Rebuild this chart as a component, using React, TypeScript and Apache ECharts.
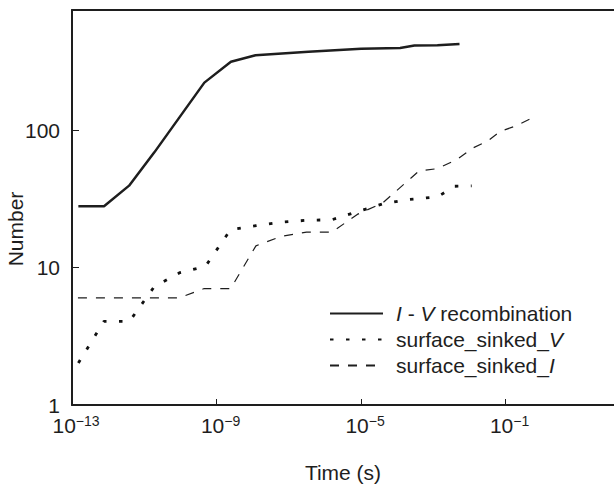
import React, { useEffect, useRef } from 'react';
import * as echarts from 'echarts';

// I - V recombination
const ivTime = [1.5e-13, 7.7e-13, 3.8e-12, 1.9e-11, 9.4e-11, 4.6e-10, 2.5e-9, 1.2e-8, 3.5e-7, 1.0e-5, 1.2e-4, 3.0e-4, 1.3e-3, 5.3e-3];
const ivCount = [28, 28, 39.5, 69, 124, 222, 315, 351, 372, 391, 397, 413, 415, 425];

// surface_sinked_V
const vTime = [1.5e-13, 7.6e-13, 3.9e-12, 1.9e-11, 9.8e-11, 4.9e-10, 2.45e-9, 1.23e-8, 6.2e-8, 3.1e-7, 1.55e-6, 7.9e-6, 4.0e-5, 2.0e-4, 1.3e-3, 3.9e-3, 0.0115];
const vCount = [2.02, 4.06, 4.06, 7.28, 9.2, 10.2, 18.9, 20.2, 21.4, 22.1, 22.3, 25.5, 29.1, 31.3, 32.7, 39.1, 39.3];

// surface_sinked_I
const iTime = [1.46e-13, 9.35e-11, 4.56e-10, 2.47e-9, 1.23e-8, 6.2e-8, 3.1e-7, 1.56e-6, 7.85e-6, 3.98e-5, 4.0e-4, 1.33e-3, 4.7e-3, 0.0122, 0.0316, 0.072, 0.186, 0.48];
const iCount = [6.03, 6.03, 7.04, 7.04, 14.4, 16.9, 18.1, 18.1, 24.4, 29.6, 50.5, 52.6, 61.7, 74.1, 83.2, 98.3, 107, 121];

const seriesNames = ['I - V recombination', 'surface_sinked_V', 'surface_sinked_I'];
const legendLabels: Record<string, string> = {
  'I - V recombination': '{i|I} - {i|V} recombination',
  'surface_sinked_V': 'surface_sinked_{i|V}',
  'surface_sinked_I': 'surface_sinked_{i|I}',
};

const xTickExponents = [-13, -9, -5, -1];
const yTickValues = [1, 10, 100];
const xRange = [1e-13, 1e2];
const yRange = [1, 750];

const FONT = "'Liberation Sans', Arial, Helvetica, sans-serif";
const INK = '#1e1e1e';

const toLog = (ts: number[], ns: number[]) => ts.map((t, i) => [Math.log10(t), Math.log10(ns[i])]);

export default function App() {
  const ref = useRef<HTMLDivElement>(null);
  useEffect(() => {
    if (!ref.current) return;
    const chart = echarts.init(ref.current, undefined, { renderer: 'svg' });
    const xMin = Math.log10(xRange[0]);
    const xMax = Math.log10(xRange[1]);
    const option: any = {
      animation: false,
      backgroundColor: '#ffffff',
      grid: { left: 72, top: 10, right: -3, bottom: 81 },
      xAxis: [
        {
          type: 'value',
          min: xMin,
          max: xMax,
          name: 'Time (s)',
          nameLocation: 'middle',
          nameGap: 57,
          nameTextStyle: { fontSize: 21, color: INK, fontFamily: FONT },
          axisLine: { show: true, onZero: false, lineStyle: { color: INK, width: 2 } },
          axisTick: { show: true, inside: true, length: 6, customValues: xTickExponents, lineStyle: { color: INK, width: 1 } },
          axisLabel: {
            show: true,
            margin: 9,
            customValues: xTickExponents,
            padding: [0, 0, 0, 8],
            formatter: (v: number) => `{b|10}{s|\u2212${Math.abs(v)}}`,
            rich: {
              b: { fontSize: 21, fontFamily: FONT, color: INK, lineHeight: 22 },
              s: { fontSize: 14, fontFamily: FONT, color: INK, lineHeight: 14, verticalAlign: 'top' },
            },
          },
          splitLine: { show: false },
        },
        {
          type: 'value',
          position: 'top',
          min: xMin,
          max: xMax,
          axisLine: { show: true, onZero: false, lineStyle: { color: INK, width: 2 } },
          axisTick: { show: false },
          axisLabel: { show: false },
          splitLine: { show: false },
        },
      ],
      yAxis: {
        type: 'value',
        min: Math.log10(yRange[0]),
        max: Math.log10(yRange[1]),
        axisLine: { show: true, onZero: false, lineStyle: { color: INK, width: 2 } },
        axisTick: { show: true, inside: true, length: 7, customValues: yTickValues.map((v) => Math.log10(v)), lineStyle: { color: INK, width: 1 } },
        axisLabel: {
          show: true,
          margin: 12,
          customValues: yTickValues.map((v) => Math.log10(v)),
          formatter: (v: number) => String(Math.round(Math.pow(10, v))),
          fontSize: 21, fontFamily: FONT, color: INK,
        },
        splitLine: { show: false },
      },
      legend: {
        show: true,
        orient: 'vertical',
        left: 329,
        top: 303,
        padding: 0,
        itemWidth: 53,
        itemHeight: 14,
        itemGap: 5,
        selectedMode: false,
        data: seriesNames,
        itemStyle: { opacity: 0, borderWidth: 0 },
        formatter: (name: string) => legendLabels[name],
        textStyle: {
          fontSize: 21, fontFamily: FONT, color: INK, padding: [0, 0, 0, 8],
          rich: { i: { fontStyle: 'italic', fontSize: 21, fontFamily: FONT, color: INK } },
        },
      },
      graphic: [
        {
          type: 'text',
          x: 15,
          y: 229,
          rotation: Math.PI / 2,
          style: { text: 'Number', font: `21px ${FONT}`, fill: INK, align: 'center', verticalAlign: 'middle' },
        },
      ],
      series: [
        {
          name: seriesNames[0], type: 'line', symbol: 'none', silent: true, xAxisIndex: 0,
          data: toLog(ivTime, ivCount),
          lineStyle: { color: INK, width: 2.5, type: 'solid' },
          itemStyle: { color: INK },
        },
        {
          name: seriesNames[1], type: 'line', symbol: 'none', silent: true, xAxisIndex: 0,
          data: toLog(vTime, vCount),
          lineStyle: { color: '#111111', width: 2.8, type: [3.5, 12.5] },
          itemStyle: { color: '#111111' },
        },
        {
          name: seriesNames[2], type: 'line', symbol: 'none', silent: true, xAxisIndex: 0,
          data: toLog(iTime, iCount),
          lineStyle: { color: INK, width: 1.2, type: [9, 9] },
          itemStyle: { color: INK },
        },
      ],
    };
    chart.setOption(option);
    return () => chart.dispose();
  }, []);
  return <div ref={ref} style={{ position: 'fixed', left: 0, top: 0, width: 614, height: 488 }} />;
}
